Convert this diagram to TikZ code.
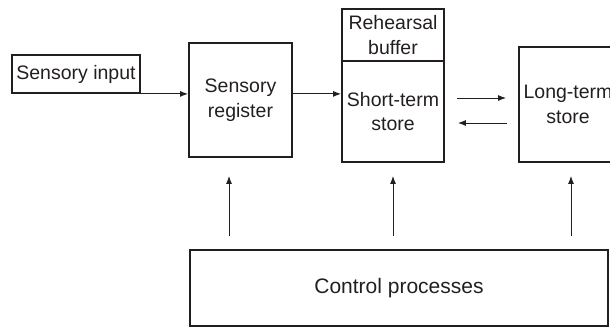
\documentclass[tikz,border=0pt]{standalone}
\usepackage{fontspec}
\setmainfont{Liberation Sans}
\usetikzlibrary{arrows.meta,calc}
\definecolor{ink}{HTML}{231F20}
\begin{document}
\begin{tikzpicture}[x=1pt,y=-1pt,
  box/.style={draw=ink, line width=1.8pt, inner sep=0pt, align=center,
    text=ink, font=\fontsize{19.5}{24.5}\selectfont},
  arr/.style={draw=ink, line width=1pt, -{Latex[length=8pt,width=6pt]}}]
  \useasboundingbox (0,0) rectangle (610,327);
  \clip (0,0) rectangle (610,327);

  % memory stores
  \node[box, minimum width=128pt, minimum height=38pt] (in) at (76,74) {Sensory input};
  \node[box, minimum width=103pt, minimum height=114pt] (reg) at (240.5,100) {Sensory\\register};
  \node[box, minimum width=102pt, minimum height=52pt] (buf) at (393,35) {Rehearsal\\buffer};
  \node[box, minimum width=102pt, minimum height=101pt] (sts) at (393,111.5) {Short-term\\store};
  \node[box, minimum width=98pt, minimum height=115pt] (lts) at (568,104.5) {Long-term\\store};
  \node[box, minimum width=418pt, minimum height=76pt, font=\fontsize{21}{25}\selectfont]
    (ctl) at (399,288) {Control processes};

  % flow of information
  \draw[arr] (in.south east) -- (in.south east -| reg.west);
  \draw[arr] (reg.east |- in.south east) -- (sts.west |- in.south east);
  \path (sts.east) ++(12,-13.5) coordinate (fwd);
  \path (sts.east) ++(13,11.5) coordinate (back);
  \draw[arr] (fwd) -- ([xshift=-12pt]fwd -| lts.west);
  \draw[arr] ([xshift=-11pt]back -| lts.west) -- (back);

  % control signals
  \draw[arr] ($(ctl.north -| reg.south)+(-11.5,-13)$) -- ($(reg.south)+(-11.5,18)$);
  \draw[arr] ($(ctl.north -| sts.south)+(0,-13)$) -- ($(sts.south)+(0,13)$);
  \draw[arr] ($(ctl.north -| lts.south)+(3,-13)$) -- ($(lts.south)+(3,13)$);
\end{tikzpicture}
\end{document}
